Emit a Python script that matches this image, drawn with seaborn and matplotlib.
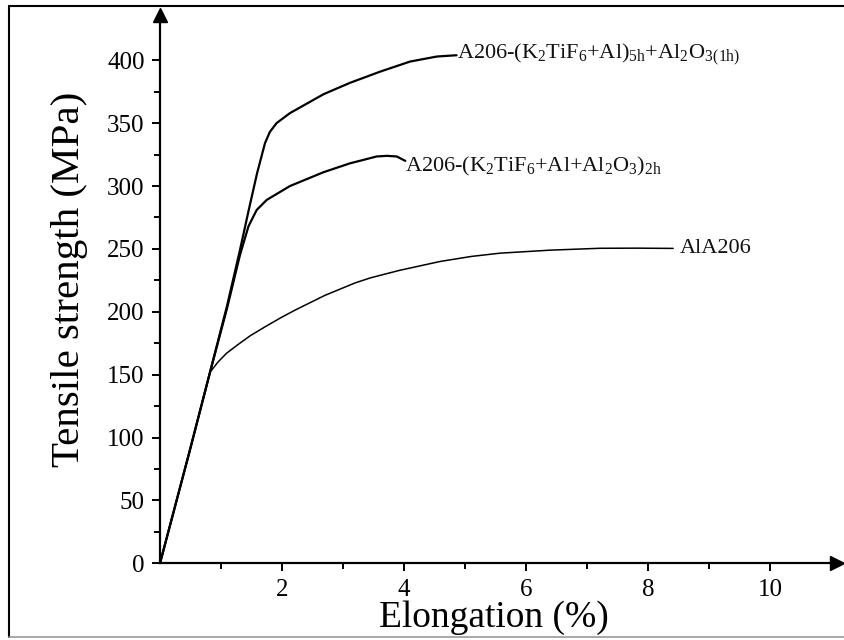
import matplotlib
matplotlib.use("Agg")
import matplotlib.pyplot as plt
import seaborn as sns
import pandas as pd
from matplotlib.lines import Line2D

# ---- data ----
alA206_x = [0.0, 0.49, 0.82, 0.95, 1.09, 1.28, 1.48, 1.72, 1.97, 2.20, 2.45, 2.70, 2.95, 3.20, 3.45, 3.93, 4.59, 5.10, 5.57, 6.39, 7.21, 7.80, 8.41]
alA206_y = [0, 90, 152, 160, 167, 174, 181, 188, 195, 201, 207, 213, 218, 223, 227, 233, 240, 244, 246.6, 249, 250.5, 250.6, 250.4]

c2h_x = [0.0, 0.49, 0.82, 1.10, 1.31, 1.45, 1.585, 1.75, 2.13, 2.68, 3.11, 3.55, 3.72, 3.88, 4.02]
c2h_y = [0, 90, 152, 203, 245, 268, 281, 289, 300, 311, 318, 323.5, 324, 323.5, 320]

c5h_x = [0.0, 0.49, 0.82, 1.10, 1.31, 1.45, 1.59, 1.72, 1.80, 1.91, 2.13, 2.68, 3.11, 3.61, 4.10, 4.54, 4.86]
c5h_y = [0, 90, 152, 205, 249, 280, 310, 334, 343, 350, 358, 373, 382, 391, 399, 403, 404]

x_major = [2, 4, 6, 8, 10]
x_minor = [1, 3, 5, 7, 9]
y_major = [0, 50, 100, 150, 200, 250, 300, 350, 400]
y_minor = [25, 75, 125, 175, 225, 275, 325, 375]

labels = [
    r"A206-(K$_2$TiF$_6$+Al)$_{5h}$+Al$_2$O$_3$$_{(1h)}$",
    r"A206-(K$_2$TiF$_6$+Al+Al$_2$O$_3$)$_{2h}$",
    "AlA206",
]
label_pos = [(4.86, 401.5), (4.02, 311.5), (8.52, 246.5)]

xlabel = "Elongation (%)"
ylabel = "Tensile strength (MPa)"

# ---- style ----
sns.set_theme(style="ticks")
plt.rcParams["font.family"] = ["Liberation Serif", "DejaVu Serif"]
plt.rcParams["mathtext.fontset"] = "custom"
plt.rcParams["mathtext.rm"] = "Liberation Serif"
plt.rcParams["mathtext.it"] = "Liberation Serif:italic"
plt.rcParams["mathtext.default"] = "regular"

fig = plt.figure(figsize=(8.44, 6.4), dpi=100)
fig.patch.set_facecolor("white")
ax = fig.add_axes([160 / 844, (640 - 563.3) / 640, (836.7 - 160) / 844, (563.3 - 15) / 640])
ax.set_facecolor("white")

frames = [
    pd.DataFrame({"x": c5h_x, "y": c5h_y}),
    pd.DataFrame({"x": c2h_x, "y": c2h_y}),
    pd.DataFrame({"x": alA206_x, "y": alA206_y}),
]
widths = [1.6, 1.6, 1.1]
for df, lw in zip(frames, widths):
    sns.lineplot(data=df, x="x", y="y", sort=False, estimator=None,
                 color="black", linewidth=lw, ax=ax)

for (tx, ty), lab in zip(label_pos, labels):
    ax.text(tx, ty, lab, fontsize=16, ha="left", va="baseline", color="#111111")

ax.set_xlim(0, 11.09)
ax.set_ylim(0, 436)
ax.set_xticks(x_major)
ax.set_xticks(x_minor, minor=True)
ax.set_yticks(y_major)
ax.set_yticks(y_minor, minor=True)
ax.tick_params(axis="both", which="major", length=6, width=1.4, labelsize=18,
               direction="out", color="black", labelcolor="black")
ax.tick_params(axis="x", which="major", pad=5)
ax.tick_params(axis="y", which="major", pad=5)
ax.tick_params(axis="both", which="minor", length=4, width=1.4, direction="out", color="black")

for s in ["top", "right"]:
    ax.spines[s].set_visible(False)
for s in ["left", "bottom"]:
    ax.spines[s].set_linewidth(1.6)
    ax.spines[s].set_color("black")

# axis arrows
ax.plot(1, 0, ">", color="black", markersize=10, transform=ax.get_yaxis_transform(), clip_on=False)
ax.plot(0, 1, "^", color="black", markersize=10, transform=ax.get_xaxis_transform(), clip_on=False)

ax.set_xlabel(xlabel, fontsize=27, color="black")
ax.set_ylabel(ylabel, fontsize=29.5, color="black")
ax.xaxis.set_label_coords((493.5 - 160) / (836.7 - 160), -(627 - 563.3) / (563.3 - 15), transform=ax.transAxes)
ax.xaxis.label.set_va("baseline")
ax.yaxis.set_label_coords(-(160 - 70) / (836.7 - 160), (563.3 - 279) / (563.3 - 15))
ax.yaxis.label.set_va("center")

# frame lines of the original figure
W, H = 844, 640
fig.add_artist(Line2D([9 / W, 1], [1 - 5.5 / H] * 2, color="black", linewidth=1.5, transform=fig.transFigure))
fig.add_artist(Line2D([9 / W] * 2, [1 - 5.5 / H, 1 - 637 / H], color="black", linewidth=1.5, transform=fig.transFigure))
fig.add_artist(Line2D([9 / W, 1], [1 - 637 / H] * 2, color="#999999", linewidth=1.2, transform=fig.transFigure))

fig.savefig("out.png", dpi=100, facecolor="white")
